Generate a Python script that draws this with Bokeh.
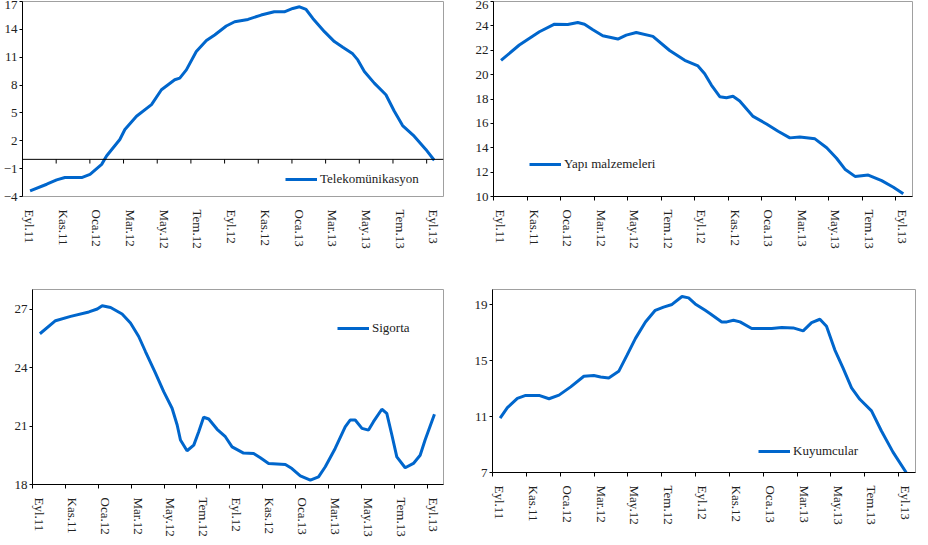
import math
from bokeh.plotting import figure
from bokeh.layouts import column, row
from bokeh.models import FixedTicker, Span, Legend, LinearAxis, Range1d
from bokeh.embed import file_html
from bokeh.resources import INLINE

# x axis: months since 1 Sep 2011, labelled every two months
tick_months = [0, 2, 4, 6, 8, 10, 12, 14, 16, 18, 20, 22, 24]
tick_labels = ["Eyl.11", "Kas.11", "Oca.12", "Mar.12", "May.12", "Tem.12", "Eyl.12",
               "Kas.12", "Oca.13", "Mar.13", "May.13", "Tem.13", "Eyl.13"]
first_obs = 0.45  # first observation, months after 1 Sep 2011

# Telekomünikasyon (months after first observation, value)
telekom_m = [0, 0.99, 1.58, 2.07, 3.06, 3.56, 4.25, 4.54, 5.33, 5.63, 6.32, 7.21, 7.8, 8.59, 8.89,
             9.28, 9.87, 10.47, 10.96, 11.65, 12.15, 12.94, 13.72, 14.5, 15.1, 15.6, 16.0, 16.39,
             16.79, 17.48, 18.07, 18.57, 19.16, 19.46, 19.85, 20.44, 21.13, 21.63, 22.12, 22.81,
             23.5, 24.0]
telekom_v = [-3.39, -2.68, -2.21, -1.96, -1.96, -1.61, -0.54, 0.36, 2.14, 3.21, 4.64, 5.89, 7.5,
             8.57, 8.75, 9.64, 11.61, 12.79, 13.39, 14.36, 14.82, 15.07, 15.54, 15.89, 15.89,
             16.25, 16.43, 16.14, 15.18, 13.75, 12.68, 12.07, 11.36, 10.71, 9.46, 8.21, 6.96,
             5.18, 3.64, 2.5, 1.07, -0.1]

# Yapı malzemeleri
yapi_m = [0, 1.09, 2.29, 3.19, 3.98, 4.58, 4.98, 5.48, 6.07, 6.97, 7.47, 8.07, 9.06, 10.06, 10.96,
          11.75, 12.15, 12.55, 13.05, 13.45, 13.84, 14.24, 15.04, 15.84, 16.53, 17.23, 17.83,
          18.73, 19.43, 20.02, 20.52, 21.12, 21.91, 22.71, 23.41, 24.0]
yapi_v = [21.17, 22.43, 23.52, 24.14, 24.11, 24.27, 24.14, 23.68, 23.19, 22.92, 23.24, 23.46,
          23.14, 21.98, 21.17, 20.71, 20.08, 19.14, 18.19, 18.11, 18.22, 17.84, 16.57, 15.95,
          15.35, 14.81, 14.89, 14.73, 14.0, 13.14, 12.24, 11.65, 11.76, 11.3, 10.76, 10.22]

# Sigorta
sigorta_m = [0, 0.95, 1.87, 2.98, 3.49, 3.79, 4.3, 5.0, 5.51, 6.01, 6.42, 7.03, 7.53, 8.04, 8.35,
             8.55, 8.95, 9.36, 9.66, 9.96, 10.27, 10.78, 11.28, 11.69, 12.39, 13.0, 13.41, 13.91,
             14.93, 15.33, 15.84, 16.45, 16.95, 17.36, 17.96, 18.57, 18.88, 19.18, 19.59, 19.99,
             20.29, 20.8, 21.1, 21.41, 21.71, 22.22, 22.72, 23.13, 23.43, 24.0]
sigorta_v = [25.73, 26.4, 26.62, 26.85, 27.0, 27.17, 27.08, 26.74, 26.28, 25.59, 24.82, 23.71,
             22.76, 21.91, 21.05, 20.28, 19.73, 20.02, 20.7, 21.45, 21.36, 20.83, 20.45, 19.93,
             19.61, 19.59, 19.37, 19.08, 19.03, 18.82, 18.44, 18.22, 18.39, 18.91, 19.85, 20.96,
             21.31, 21.31, 20.88, 20.79, 21.22, 21.86, 21.65, 20.54, 19.42, 18.86, 19.08, 19.5,
             20.28, 21.6]

# Kuyumcular
kuyum_m = [0, 0.43, 1.02, 1.51, 2.3, 2.89, 3.48, 4.17, 4.95, 5.54, 5.94, 6.42, 7.01, 7.51, 8.0,
           8.59, 9.17, 9.66, 10.16, 10.75, 11.14, 11.53, 12.12, 12.42, 13.1, 13.4, 13.79, 14.18,
           14.87, 16.05, 16.64, 17.32, 17.91, 18.41, 18.9, 19.29, 19.78, 20.27, 20.77, 21.26,
           21.95, 22.53, 23.22, 24.0]
kuyum_v = [10.89, 11.64, 12.31, 12.52, 12.52, 12.28, 12.54, 13.13, 13.89, 13.94, 13.84, 13.77,
           14.24, 15.42, 16.6, 17.78, 18.61, 18.84, 19.03, 19.6, 19.5, 19.07, 18.61, 18.37, 17.78,
           17.78, 17.9, 17.78, 17.31, 17.31, 17.38, 17.35, 17.14, 17.73, 17.97, 17.47, 15.78,
           14.47, 13.06, 12.24, 11.41, 9.99, 8.46, 7.0]

BLUE = "#0066CC"
FONT = "Liberation Serif"
TXT = "#222222"
LABEL_SHIFT = 0.42  # month labels sit a little right of their tick marks


def panel(name, months, values, y_range, y_ticks, width, height, borders, legend_xy,
          zero_axis=False):
    bl, br, bt, bb = borders
    p = figure(width=width, height=height, x_range=(0, 25), y_range=y_range,
               output_backend="svg", toolbar_location=None,
               min_border_left=bl, min_border_right=br, min_border_top=bt, min_border_bottom=bb)
    p.outline_line_color = "#A0A0A0"
    p.outline_line_width = 1
    p.xgrid.visible = False
    p.ygrid.visible = False
    p.extra_x_ranges = {"lab": Range1d(start=-LABEL_SHIFT, end=25 - LABEL_SHIFT)}

    xs = [first_obs + m for m in months]
    r = p.line(xs, values, line_color=BLUE, line_width=3)

    ya = p.yaxis[0]
    ya.ticker = FixedTicker(ticks=y_ticks)
    ya.minor_tick_line_color = None
    ya.major_tick_in = 0
    ya.major_tick_out = 3
    ya.axis_line_color = "black"
    ya.major_tick_line_color = "black"
    ya.major_label_standoff = 2
    ya.major_label_text_font = FONT
    ya.major_label_text_font_size = "13px"
    ya.major_label_text_color = TXT

    # axis carrying the tick marks
    xa = p.xaxis[0]
    xa.ticker = FixedTicker(ticks=tick_months)
    xa.major_label_overrides = {t: "" for t in tick_months}
    xa.major_label_text_font_size = "0px"
    xa.minor_tick_line_color = None
    xa.major_tick_in = 0
    xa.major_tick_out = 4
    xa.major_label_standoff = 0
    xa.axis_line_color = "black"
    xa.major_tick_line_color = "black"

    # axis carrying the month labels
    xb = LinearAxis(x_range_name="lab", ticker=FixedTicker(ticks=tick_months),
                    major_label_overrides={t: lab for t, lab in zip(tick_months, tick_labels)},
                    major_label_orientation=-math.pi / 2,
                    axis_line_color=None, major_tick_line_color=None,
                    minor_tick_line_color=None, major_tick_in=0, major_tick_out=0,
                    major_label_standoff=9,
                    major_label_text_font=FONT, major_label_text_font_size="13px",
                    major_label_text_color=TXT)
    p.add_layout(xb, "below")

    if zero_axis:
        xa.visible = False
        xb.major_label_standoff = 13
        p.add_layout(Span(location=0, dimension="width", line_color="black", line_width=1))
        tx = tick_months[1:]
        p.segment(x0=tx, y0=[0] * len(tx), x1=tx, y1=[-0.45] * len(tx),
                  line_color="black", line_width=1)

    lg = Legend(items=[(name, [r])], location=legend_xy)
    lg.border_line_color = None
    lg.background_fill_alpha = 0
    lg.padding = 0
    lg.margin = 0
    lg.spacing = 0
    lg.glyph_width = 32
    lg.glyph_height = 14
    lg.label_height = 14
    lg.label_standoff = 3
    lg.label_text_font = FONT
    lg.label_text_font_size = "13px"
    lg.label_text_color = TXT
    p.add_layout(lg)
    return p


p1 = panel("Telekomünikasyon", telekom_m, telekom_v, (-4, 17),
           [-4, -1, 2, 5, 8, 11, 14, 17], 455, 270, (20, 12, 1, 73), (263, 9), zero_axis=True)
p2 = panel("Yapı malzemeleri", yapi_m, yapi_v, (10, 26),
           [10, 12, 14, 16, 18, 20, 22, 24, 26], 473, 270, (38, 16, 0, 74), (36, 24))
p3 = panel("Sigorta", sigorta_m, sigorta_v, (18, 28),
           [18, 21, 24, 27], 455, 275, (32, 12, 19, 61), (305, 148))
p4 = panel("Kuyumcular", kuyum_m, kuyum_v, (7, 20.1),
           [7, 11, 15, 19], 473, 263, (37, 13, 18, 61), (266, 13))

layout = column(row(p1, p2), row(p3, p4))
open("out.html", "w").write(file_html(layout, INLINE))
